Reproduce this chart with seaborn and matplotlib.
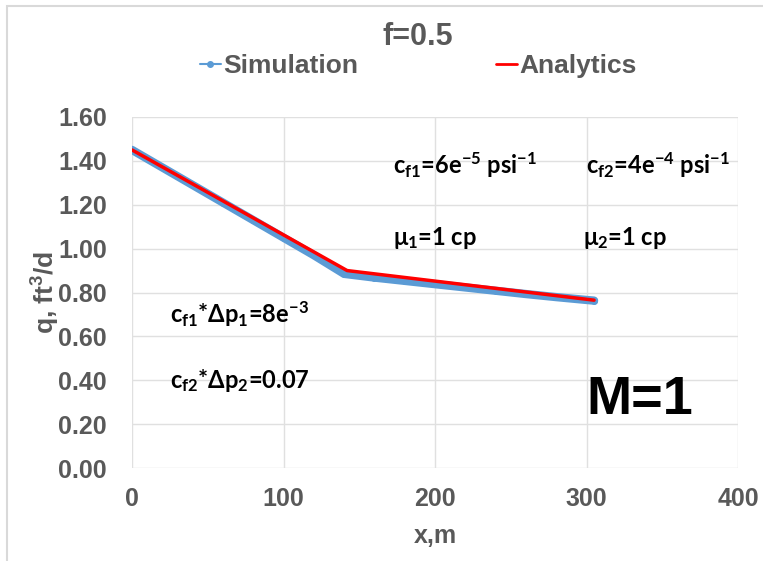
import numpy as np
import pandas as pd
import matplotlib
matplotlib.use('Agg')
import matplotlib.pyplot as plt
import seaborn as sns
from matplotlib.patches import Rectangle

# dane
sim_x = [0, 20, 40, 60, 80, 100, 120, 140, 160, 180, 200, 220, 240, 260, 280, 300, 305]
sim_q = [1.45, 1.37, 1.29, 1.21, 1.13, 1.05, 0.97, 0.885, 0.868, 0.853, 0.838, 0.823, 0.808, 0.793, 0.779, 0.766, 0.763]
ana_x = [0, 142, 305]
ana_q = [1.45, 0.90, 0.765]

x_ticks = [0, 100, 200, 300, 400]
y_ticks = [0.0, 0.2, 0.4, 0.6, 0.8, 1.0, 1.2, 1.4, 1.6]

sim_df = pd.DataFrame({'x': sim_x, 'q': sim_q})
ana_df = pd.DataFrame({'x': ana_x, 'q': ana_q})

sns.set_style("white")
plt.rcParams['font.family'] = ['Liberation Sans', 'DejaVu Sans']
plt.rcParams['mathtext.fontset'] = 'custom'
plt.rcParams['mathtext.rm'] = 'Lato:bold'
plt.rcParams['mathtext.it'] = 'Lato:bold'
plt.rcParams['mathtext.bf'] = 'Lato:bold'

gray = '#595959'
fig = plt.figure(figsize=(7.63, 5.61), dpi=100)
ax = fig.add_axes([132 / 763, 1 - 468 / 561, (738 - 132) / 763, (468 - 117) / 561])

sns.lineplot(data=sim_df, x='x', y='q', ax=ax, color='#5b9bd5', linewidth=6,
             marker='o', markersize=5, markeredgewidth=0, legend=False)
sns.lineplot(data=ana_df, x='x', y='q', ax=ax, color='#ff0000', linewidth=2.5,
             legend=False)

ax.set_xlim(0, 400)
ax.set_ylim(0, 1.6)
ax.set_xticks(x_ticks)
ax.set_yticks(y_ticks)
ax.set_yticklabels([f"{v:.2f}" for v in y_ticks])
ax.grid(True, color='#e0e0e0', linewidth=1)
for s in ax.spines.values():
    s.set_visible(False)
ax.tick_params(axis='both', length=0, labelsize=18, labelcolor=gray)
ax.tick_params(axis='y', pad=18)
ax.tick_params(axis='x', pad=14)
for lab in ax.get_xticklabels() + ax.get_yticklabels():
    lab.set_fontweight('bold')

ax.set_xlabel('x,m', fontsize=18, fontweight='bold', color=gray, labelpad=9)
ax.set_ylabel('q, ft$^\\mathregular{3}$/d', fontsize=19, fontweight='bold', color=gray, labelpad=-3)

fig.text(0.547, 1 - 37 / 561, 'f=0.5', ha='center', va='center', fontsize=22,
         fontweight='bold', color=gray)

# legenda nad wykresem jak w Excelu
leg_handles = [plt.Line2D([], [], color='#5b9bd5', lw=1.5, marker='o', markersize=4),
               plt.Line2D([], [], color='#ff0000', lw=2)]
leg = fig.legend(handles=leg_handles, labels=['Simulation', 'Analytics'], loc='center',
                 bbox_to_anchor=(0.548, 1 - 66 / 561), ncol=2,
                 frameon=False, handlelength=0.8, handletextpad=0.1, columnspacing=5.2,
                 prop={'size': 19, 'weight': 'bold'})
for t in leg.get_texts():
    t.set_color(gray)

ann = dict(fontsize=17, color='black', va='center', ha='left', fontweight='bold',
           family=['Lato', 'DejaVu Sans'])
ax.text(172, 1.38, r'c$_{f1}$=6e$^{-5}$ psi$^{-1}$', **ann)
ax.text(300, 1.38, r'c$_{f2}$=4e$^{-4}$ psi$^{-1}$', **ann)
ax.text(172, 1.05, r'μ$_{1}$=1 cp', **ann)
ax.text(298, 1.05, r'μ$_{2}$=1 cp', **ann)
ax.text(25, 0.70, r'c$_{f1}$*Δp$_{1}$=8e$^{-3}$', **ann)
ax.text(25, 0.40, r'c$_{f2}$*Δp$_{2}$=0.07', **ann)
ax.text(300, 0.31, 'M=1', fontsize=39, fontweight='bold', color='black', va='center',
        ha='left')

fig.patches.append(Rectangle((7 / 763, -0.1), 1.2, 1.1 - 6 / 561, transform=fig.transFigure,
                             fill=False, edgecolor='#d9d9d9', linewidth=1.5))

plt.savefig('out.png', dpi=100)
plt.close()
